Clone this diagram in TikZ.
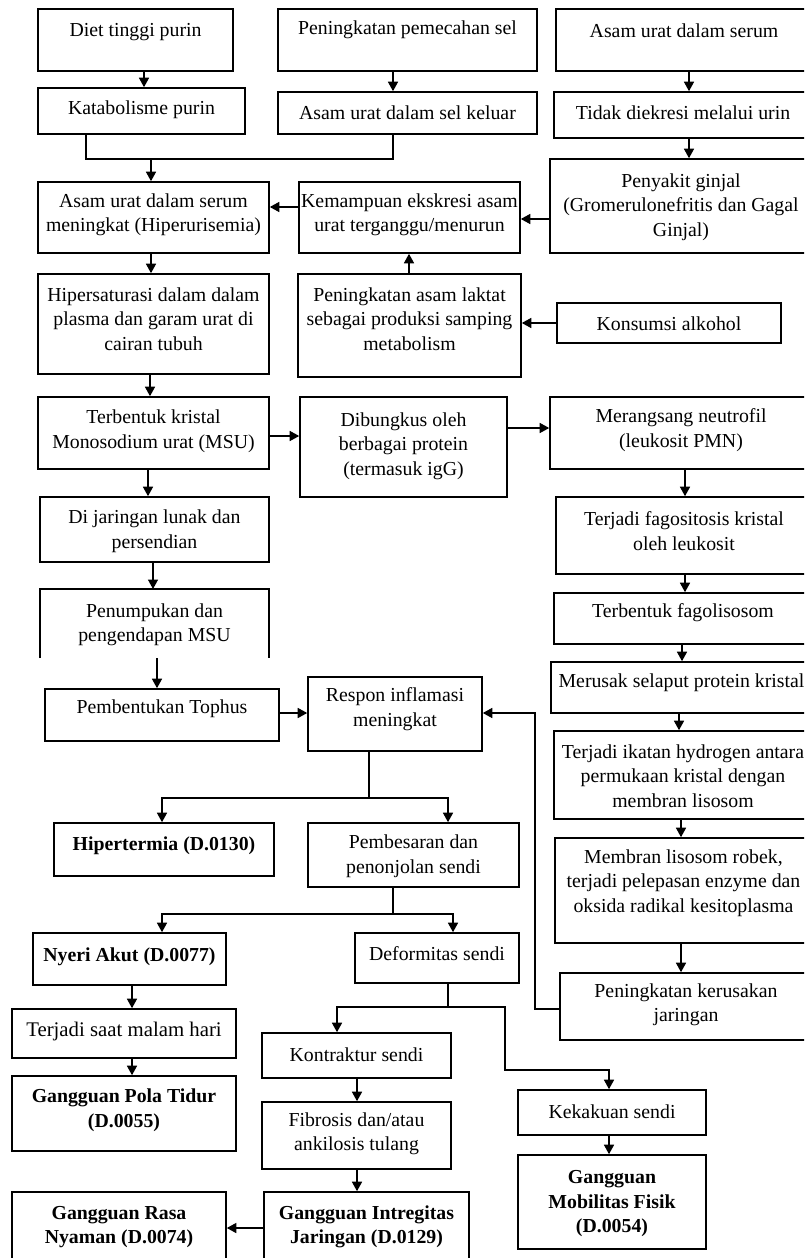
\documentclass[tikz,border=0pt]{standalone}
\usepackage{fontspec}
\setmainfont{Liberation Serif}
\usetikzlibrary{fit,arrows.meta}
\tikzset{
  boxs/.style={draw, line width=1.6pt, inner sep=0pt},
  tx/.style={align=center, inner sep=0pt, font=\fontsize{19.8}{24.5}\selectfont},
  bf/.style={font=\fontsize{19.8}{24.5}\selectfont\bfseries},
  ln/.style={line width=1.5pt},
  arr/.style={line width=1.5pt, -{Triangle[length=9.5pt,width=10pt]}}
}
\newcommand\bx[8][]{%
  \node[boxs, fit={(#3,#4) (#5,#6)}] (#2) {};
  \node[tx,#1] (#2-t) at ({(#3+#5)/2},#7) {#8};}
\newcommand\adown[3]{\coordinate (tq) at (#3,0); \draw[arr] (#1.south -| tq) -- (#2.north -| tq);}
\newcommand\aup[3]{\coordinate (tq) at (#3,0); \draw[arr] (#1.north -| tq) -- (#2.south -| tq);}
\newcommand\aleft[3]{\coordinate (tq) at (0,#3); \draw[arr] (#1.west |- tq) -- (#2.east |- tq);}
\newcommand\aright[3]{\coordinate (tq) at (0,#3); \draw[arr] (#1.east |- tq) -- (#2.west |- tq);}
\begin{document}
\begin{tikzpicture}[x=1pt,y=-1pt]
\useasboundingbox (0,0) rectangle (804,1258);
\fill[white] (0,0) rectangle (804,1258);
\clip (0,0) rectangle (804,1258);
% boxes
\bx{dt}{38}{9}{233}{71}{32}{Diet tinggi purin}
\bx{kp}{38}{88}{245}{134}{110}{Katabolisme purin}
\bx{pps}{278}{9}{537}{71}{30}{Peningkatan pemecahan sel}
\bx{aus}{278}{92}{537}{134}{113}{Asam urat dalam sel keluar}
\bx{ads}{556}{9}{812}{71}{31}{Asam urat dalam serum}
\bx{td}{554}{92}{812}{138}{113}{Tidak diekresi melalui urin}
\bx{pg}{550}{159}{812}{253}{207}{Penyakit ginjal\\(Gromerulonefritis dan Gagal\\Ginjal)}
\bx{au}{38}{182}{269}{253}{215}{Asam urat dalam serum\\meningkat (Hiperurisemia)}
\bx{ke}{299}{182}{520}{253}{215}{Kemampuan ekskresi asam\\urat terganggu/menurun}
\bx{hs}{38}{274}{269}{374}{319}{Hipersaturasi dalam dalam\\plasma dan garam urat di\\cairan tubuh}
\bx{pal}{298}{274}{521}{377}{319}{Peningkatan asam laktat\\sebagai produksi samping\\metabolism}
\bx{ka}{557}{303}{781}{343}{324}{Konsumsi alkohol}
\bx{tk}{38}{397}{269}{469}{431}{Terbentuk kristal\\Monosodium urat (MSU)}
\bx{db}{300}{397}{507}{497}{446}{Dibungkus oleh\\berbagai protein\\(termasuk igG)}
\bx{mn}{550}{397}{812}{469}{430}{Merangsang neutrofil\\(leukosit PMN)}
\bx{fk}{556}{497}{812}{574}{531}{Terjadi fagositosis kristal\\oleh leukosit}
\bx{fl}{554}{593}{812}{644}{613}{Terbentuk fagolisosom}
\bx{jl}{40}{497}{269}{562}{531}{Di jaringan lunak dan\\persendian}
% open-bottom box
\node[boxs, draw=none, outer sep=0pt, fit={(40,589) (269,658)}] (pm) {};
\node[tx] (pm-t) at (154.5,625) {Penumpukan dan\\pengendapan MSU};
\draw[line width=1.6pt] (pm.south west) -- (pm.north west) -- (pm.north east) -- (pm.south east);
\bx{pt}{45}{689}{279}{741}{709}{Pembentukan Tophus}
\bx{ri}{308}{677}{482}{751}{709}{Respon inflamasi\\meningkat}
\bx{ms}{551}{662}{812}{713}{683}{Merusak selaput protein kristal}
\bx{ih}{554}{731}{812}{819}{776}{Terjadi ikatan hydrogen antara\\permukaan kristal dengan\\membran lisosom}
\bx{ml}{555}{838}{812}{943}{883}{Membran lisosom robek,\\terjadi pelepasan enzyme dan\\oksida radikal kesitoplasma}
\bx[bf]{hp}{54}{823}{274}{876}{846}{Hipertermia (D.0130)}
\bx{pb}{308}{823}{519}{887}{856}{Pembesaran dan\\penonjolan sendi}
\bx[bf]{na}{33}{933}{226}{985}{957}{Nyeri Akut (D.0077)}
\bx{ds}{355}{933}{519}{983}{954}{Deformitas sendi}
\bx{pk}{560}{973}{812}{1040}{1005}{Peningkatan kerusakan\\jaringan}
\bx{tm}{12}{1009}{236}{1058}{1031}{\fontsize{20.8}{25}\selectfont Terjadi saat malam hari}
\bx[bf]{gp}{12}{1076}{236}{1151}{1110}{Gangguan Pola Tidur\\(D.0055)}
\bx{kt}{262}{1033}{451}{1078}{1055}{Kontraktur sendi}
\bx{fb}{262}{1102}{451}{1169}{1134}{Fibrosis dan/atau\\ankilosis tulang}
\bx[bf]{gi}{264}{1192}{469}{1266}{1227}{Gangguan Intregitas\\Jaringan (D.0129)}
\bx[bf]{gr}{12}{1192}{226}{1266}{1227}{Gangguan Rasa\\Nyaman (D.0074)}
\bx{kk}{518}{1090}{706}{1135}{1112}{Kekakuan sendi}
\bx[bf]{gm}{518}{1155}{706}{1249}{1204}{Gangguan\\Mobilitas Fisik\\(D.0054)}
% connectors
\adown{dt}{kp}{144}
\adown{pps}{aus}{393}
\adown{ads}{td}{689}
\adown{td}{pg}{689}
\coordinate (m1) at (86,159); \coordinate (m2) at (393,159); \coordinate (m3) at (151,159);
\draw[ln] (kp.south -| m1) -- (m1) -- (m2) -- (aus.south -| m2);
\draw[arr] (m3) -- (au.north -| m3);
\aleft{pg}{ke}{219}
\aleft{ke}{au}{207}
\aup{pal}{ke}{409}
\aleft{ka}{pal}{323}
\adown{au}{hs}{151}
\adown{hs}{tk}{150}
\aright{tk}{db}{436}
\aright{db}{mn}{428}
\adown{tk}{jl}{148}
\adown{jl}{pm}{153}
\adown{pm}{pt}{157}
\aright{pt}{ri}{713}
\adown{mn}{fk}{685}
\adown{fk}{fl}{685}
\adown{fl}{ms}{682}
\adown{ms}{ih}{679}
\adown{ih}{ml}{681}
\adown{ml}{pk}{681}
\coordinate (f1) at (535,1009); \coordinate (f2) at (535,713);
\draw[arr] (pk.west |- f1) -- (f1) -- (f2) -- (ri.east |- f2);
\coordinate (r0) at (369,798); \coordinate (r1) at (162,798); \coordinate (r2) at (448,798);
\draw[ln] (ri.south -| r0) -- (r0);
\draw[arr] (r0) -- (r1) -- (hp.north -| r1);
\draw[arr] (r0) -- (r2) -- (pb.north -| r2);
\coordinate (p0) at (393,914); \coordinate (p1) at (162,914); \coordinate (p2) at (453,914);
\draw[ln] (pb.south -| p0) -- (p0);
\draw[arr] (p0) -- (p1) -- (na.north -| p1);
\draw[arr] (p0) -- (p2) -- (ds.north -| p2);
\adown{na}{tm}{132}
\adown{tm}{gp}{132}
\coordinate (d0) at (448,1007); \coordinate (d1) at (337,1007); \coordinate (d2) at (505,1007);
\coordinate (d3) at (505,1070); \coordinate (d4) at (609,1070);
\draw[ln] (ds.south -| d0) -- (d0);
\draw[arr] (d0) -- (d1) -- (kt.north -| d1);
\draw[arr] (d0) -- (d2) -- (d3) -- (d4) -- (kk.north -| d4);
\adown{kt}{fb}{357}
\adown{fb}{gi}{357}
\aleft{gi}{gr}{1228}
\adown{kk}{gm}{609}
\end{tikzpicture}
\end{document}
